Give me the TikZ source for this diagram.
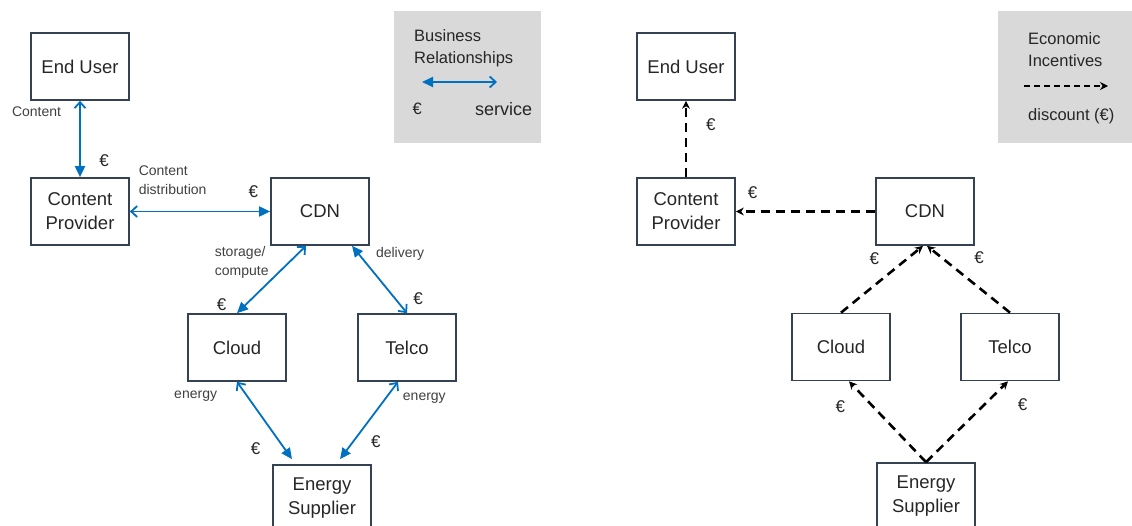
\documentclass[tikz,border=0pt]{standalone}
\usepackage{fontspec}
\setmainfont{Liberation Sans}
\usetikzlibrary{arrows.meta}
\definecolor{relblue}{RGB}{0,112,192}
\definecolor{boxline}{RGB}{52,66,84}
\definecolor{legendgray}{RGB}{217,217,217}
\definecolor{labelgray}{RGB}{64,64,64}
\definecolor{textdark}{RGB}{38,38,38}

\begin{document}
\begin{tikzpicture}[x=1pt, y=1pt, node distance=145pt,
  block/.style={rectangle, draw=boxline, line width=1.7pt, minimum width=98pt, minimum height=67pt, inner sep=0pt, align=center, text=textdark, font={\fontsize{18.5}{24}\selectfont}},
  lbl/.style={inner sep=1pt, align=left, text=labelgray, font={\fontsize{14}{19}\selectfont}},
  euro/.style={inner sep=1pt, text=textdark, font={\fontsize{17}{17}\selectfont}},
  legbox/.style={rectangle, fill=legendgray, anchor=north west, minimum width=147pt, minimum height=132pt, inner sep=0pt},
  legtext/.style={inner sep=0pt, anchor=west, align=left, text=textdark, font={\fontsize{16.5}{22}\selectfont}},
  bizarrow/.style={relblue, line width=1.8pt, {Straight Barb[length=6pt,width=11pt]}-{Triangle[length=11pt,width=10pt]}},
  incarrow/.style={black, line width=2.6pt, dash pattern=on 9pt off 6pt, -{Stealth[length=8pt,width=8pt]}}]
  \useasboundingbox (0,0) rectangle (1132,-526);

  % business relationships
  \node[block] (enduser) at (80,-66.5) {End User};
  \node[block, below of=enduser] (provider) {Content\\Provider};
  \node[block, right of=provider, node distance=240pt] (cdn) {CDN};
  \node[block, below of=cdn, node distance=136pt, xshift=-83pt] (cloud) {Cloud};
  \node[block, right of=cloud, node distance=170pt] (telco) {Telco};
  \node[block, below of=cdn, node distance=287pt, xshift=2pt] (supplier) {Energy\\Supplier};

  \node[legbox] (legbiz) at (394,-11) {};
  \node[legtext] (legbizhead) at (414,-48) {Business\\Relationships};
  \coordinate (legbizA) at (422,-82);
  \coordinate (legbizB) at (497,-82);
  \node[legtext] (legbizeuro) at (412.5,-109) {€};
  \node[legtext, font={\fontsize{18}{22}\selectfont}] (legbizservice) at (475,-109) {service};
  \draw[bizarrow] (legbizB) -- (legbizA);

  \draw[bizarrow] (enduser) -- node[lbl, pos=0.14, left=17pt] {Content} node[euro, pos=0.78, right=17.5pt] {€} (provider);
  \draw[bizarrow] (provider) -- node[lbl, pos=0, anchor=south west, xshift=7pt, yshift=15pt] {Content\\distribution} node[euro, pos=0.88, above=11.5pt] {€} (cdn);
  \draw[bizarrow] ([xshift=-14pt]cdn.south) -- node[lbl, pos=0.24, left=19pt] {storage/\\compute} node[euro, pos=0.88, left=17pt] {€} (cloud.north);
  \draw[bizarrow] (telco.north) -- node[euro, pos=0.22, right=16.5pt] {€} node[lbl, pos=0.88, right=15.5pt] {delivery} ([xshift=32pt]cdn.south);
  \draw[bizarrow] (cloud.south) -- node[lbl, pos=0.19, left=28.5pt] {energy} node[euro, pos=0.86, left=22pt] {€} ([xshift=-30pt, yshift=5pt]supplier.north);
  \draw[bizarrow] ([xshift=-9pt]telco.south) -- node[lbl, pos=0.215, right=15.5pt] {energy} node[euro, pos=0.77, right=16pt] {€} ([xshift=18pt, yshift=5pt]supplier.north);

  % economic incentives
  \node[block] (enduserinc) at (686,-66.5) {End User};
  \node[block, below of=enduserinc] (providerinc) {Content\\Provider};
  \node[block, right of=providerinc, node distance=239pt] (cdninc) {CDN};
  \node[block, below of=cdninc, node distance=135.5pt, xshift=-84pt] (cloudinc) {Cloud};
  \node[block, right of=cloudinc, node distance=169pt] (telcoinc) {Telco};
  \node[block, below of=cdninc, node distance=285pt, xshift=1pt] (supplierinc) {Energy\\Supplier};

  \node[legbox, minimum width=134pt] (leginc) at (998,-11) {};
  \node[legtext] (leginchead) at (1028,-49.5) {Economic\\Incentives};
  \coordinate (legincA) at (1024,-86);
  \coordinate (legincB) at (1108,-86);
  \node[legtext] (legincdiscount) at (1028,-116) {discount (€)};
  \draw[incarrow, line width=2.4pt, dash pattern=on 6pt off 4pt] (legincA) -- (legincB);

  \draw[incarrow] (providerinc) -- node[euro, pos=0.69, right=17.8pt] {€} (enduserinc);
  \draw[incarrow] (cdninc) -- node[euro, pos=0.88, above=11pt] {€} (providerinc);
  \draw[incarrow] (cloudinc.north) -- node[euro, pos=0.81, left=26pt] {€} ([xshift=-2pt]cdninc.south);
  \draw[incarrow] (telcoinc.north) -- node[euro, pos=0.82, right=30pt] {€} ([xshift=2pt]cdninc.south);
  \draw[incarrow] (supplierinc.north) -- node[euro, pos=0.69, left=25.5pt] {€} ([xshift=8pt]cloudinc.south);
  \draw[incarrow] (supplierinc.north) -- node[euro, pos=0.715, right=31pt] {€} ([xshift=-2pt]telcoinc.south);

\end{tikzpicture}
\end{document}
